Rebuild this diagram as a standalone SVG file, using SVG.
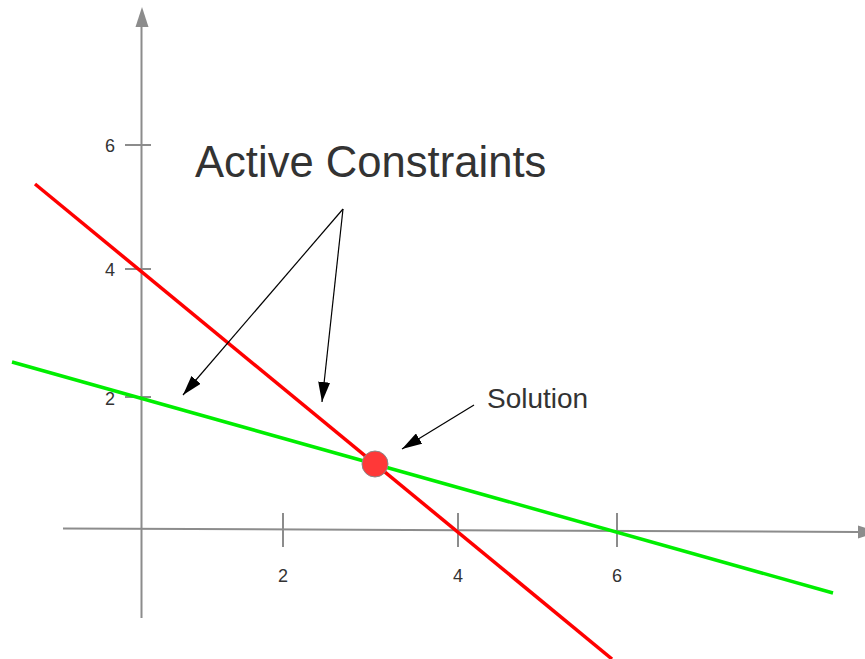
<svg xmlns="http://www.w3.org/2000/svg" width="865" height="659" viewBox="0 0 865 659">
<style>
.axis{stroke:#8c8c8c;stroke-width:2;fill:none}
.tick{stroke:#8c8c8c;stroke-width:2}
.lbl{font-family:"Liberation Sans",Arial,sans-serif;font-size:18px;fill:#333;text-anchor:middle}
.ann{stroke:#000;stroke-width:1.2;fill:none;marker-end:url(#ah)}
</style>
<defs>
<marker id="ah" viewBox="0 0 20 12" refX="20" refY="6" markerWidth="20" markerHeight="12" markerUnits="userSpaceOnUse" orient="auto">
<path d="M0,0 L20,6 L0,12 Z" fill="#000"/>
</marker>
</defs>
<rect width="865" height="659" fill="#fff"/>
<g id="axes">
<line class="axis" x1="141.5" y1="618" x2="141.5" y2="26"/>
<polygon points="142,7 135.5,27 148.5,27" fill="#8c8c8c"/>
<line class="axis" x1="63" y1="528.5" x2="858" y2="532"/>
<polygon points="878,532 858,525.5 858,538.5" fill="#8c8c8c"/>
<line class="tick" x1="125" y1="145" x2="151" y2="145"/>
<line class="tick" x1="125" y1="269" x2="151" y2="269"/>
<line class="tick" x1="125" y1="397" x2="151" y2="397"/>
<line class="tick" x1="283" y1="513" x2="283" y2="547"/>
<line class="tick" x1="458" y1="513" x2="458" y2="547"/>
<line class="tick" x1="617" y1="513" x2="617" y2="547"/>
<text class="lbl" x="110" y="152">6</text>
<text class="lbl" x="110" y="276">4</text>
<text class="lbl" x="110" y="405">2</text>
<text class="lbl" x="283" y="582">2</text>
<text class="lbl" x="458" y="582">4</text>
<text class="lbl" x="617" y="582">6</text>
</g>
<g id="constraints">
<line x1="35" y1="184" x2="612" y2="659" stroke="#ff0000" stroke-width="3.5"/>
<line x1="12" y1="362" x2="833" y2="593" stroke="#00ee00" stroke-width="3.5"/>
</g>
<g id="solution-point">
<circle cx="375" cy="464" r="13" fill="#ff3838" stroke="#888" stroke-width="1"/>
</g>
<g id="labels">
<text x="195" y="177" font-family="Liberation Sans,Arial,sans-serif" font-size="43.6" fill="#333">Active Constraints</text>
<text x="487" y="408" font-family="Liberation Sans,Arial,sans-serif" font-size="28" fill="#333">Solution</text>
</g>
<g id="connectors">
<line class="ann" x1="343" y1="209" x2="183" y2="395"/>
<line class="ann" x1="343" y1="209" x2="322" y2="402"/>
<line class="ann" x1="474" y1="405" x2="402" y2="449"/>
</g>
</svg>
